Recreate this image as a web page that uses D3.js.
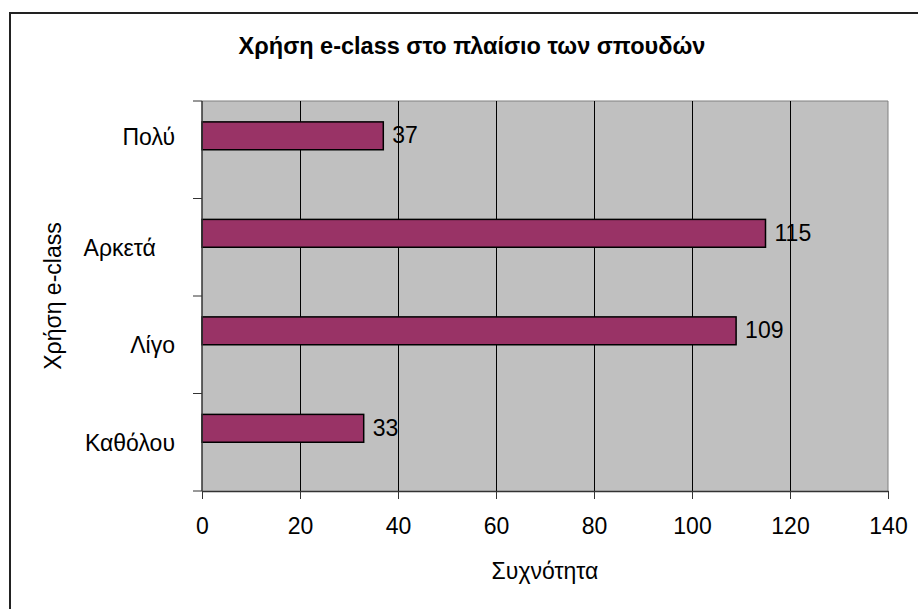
<!DOCTYPE html>
<html>
<head>
<meta charset="utf-8">
<script src="https://cdn.jsdelivr.net/npm/d3@7"></script>
<style>
  body { margin: 0; background: #fff; }
  text { font-family: "Liberation Sans", Arial, sans-serif; fill: #000; }
  .ylabel { white-space: pre; }
</style>
</head>
<body>
<div id="container"></div>
<script>
const categories = ["Καθόλου", "Λίγο", "Αρκετά", "Πολύ"];
// category labels as typed in the sheet (trailing spaces / empty line kept)
const categoryLabels = ["Καθόλου", "Λίγο", "Αρκετά   ", "Πολύ\n"];
const values = [33, 109, 115, 37];
const xTicks = [0, 20, 40, 60, 80, 100, 120, 140];
const title = "Χρήση e-class στο πλαίσιο των σπουδών";
const xTitle = "Συχνότητα";
const yTitle = "Χρήση e-class";

const W = 918, H = 609;
const plot = { left: 202, right: 888, top: 101, bottom: 491 };
const fs = 23;

const svg = d3.select("#container").append("svg")
  .attr("width", W).attr("height", H);

// outer chart frame (runs off the bottom/right of the picture)
svg.append("rect")
  .attr("x", 10).attr("y", 13)
  .attr("width", W + 20).attr("height", H + 20)
  .attr("fill", "#fff").attr("stroke", "#222").attr("stroke-width", 2);

const x = d3.scaleLinear().domain([0, 140]).range([plot.left, plot.right]);

// Excel-like category axis, bottom to top
const y = d3.scaleBand().domain(categories).range([plot.bottom, plot.top]);
// two slots per category (second one empty), gap width 150%
const slot = d3.scaleBand().domain(["a", "b"]).range([0, y.bandwidth()])
  .paddingInner(0).paddingOuter(0.75);

const data = categories.map((c, i) => ({ cat: c, label: categoryLabels[i], value: values[i] }));

// plot background
svg.append("rect")
  .attr("x", plot.left).attr("y", plot.top)
  .attr("width", plot.right - plot.left).attr("height", plot.bottom - plot.top)
  .attr("fill", "#c0c0c0");
svg.append("line")
  .attr("x1", plot.left).attr("x2", plot.right)
  .attr("y1", plot.top).attr("y2", plot.top)
  .attr("stroke", "#808080").attr("stroke-width", 1);
svg.append("line")
  .attr("x1", plot.right).attr("x2", plot.right)
  .attr("y1", plot.top).attr("y2", plot.bottom)
  .attr("stroke", "#808080").attr("stroke-width", 1);

// gridlines
svg.append("g").selectAll("line")
  .data(xTicks.filter((d) => d > 0 && d < 140))
  .enter().append("line")
  .attr("x1", (d) => Math.round(x(d)) + 0.5).attr("x2", (d) => Math.round(x(d)) + 0.5)
  .attr("y1", plot.top).attr("y2", plot.bottom)
  .attr("stroke", "#000").attr("stroke-width", 1);

// bars
svg.append("g").selectAll("rect")
  .data(data)
  .enter().append("rect")
  .attr("x", x(0))
  .attr("y", (d) => y(d.cat) + slot("a"))
  .attr("width", (d) => x(d.value) - x(0))
  .attr("height", slot.bandwidth())
  .attr("fill", "#993366")
  .attr("stroke", "#000").attr("stroke-width", 1.5);

// value labels
svg.append("g").selectAll("text")
  .data(data)
  .enter().append("text")
  .attr("x", (d) => x(d.value) + 9)
  .attr("y", (d) => y(d.cat) + slot("a") + slot.bandwidth() / 2 - 1)
  .attr("dy", "0.36em")
  .attr("font-size", fs + "px")
  .text((d) => d.value);

// x axis
const xAxis = svg.append("g")
  .attr("transform", `translate(0,${plot.bottom})`)
  .call(d3.axisBottom(x).tickValues(xTicks).tickSize(8).tickSizeOuter(0));
xAxis.select(".domain").attr("stroke", "#333").attr("stroke-width", 1.5);
xAxis.selectAll(".tick line").attr("stroke", "#333");
xAxis.selectAll(".tick text")
  .attr("font-size", fs + "px")
  .attr("font-family", "Liberation Sans, Arial, sans-serif")
  .attr("fill", "#000")
  .attr("dy", "0em")
  .attr("y", 43);

// y axis: ticks between categories
const yAxis = svg.append("g").attr("transform", `translate(${plot.left},0)`);
yAxis.append("line")
  .attr("x1", 0).attr("x2", 0).attr("y1", plot.top).attr("y2", plot.bottom)
  .attr("stroke", "#333").attr("stroke-width", 1.5);
const bounds = categories.map((c) => y(c) + y.bandwidth()).concat([plot.top]);
yAxis.selectAll(".ytick").data(bounds).enter().append("line")
  .attr("x1", -9).attr("x2", 0)
  .attr("y1", (d) => d).attr("y2", (d) => d)
  .attr("stroke", "#333");

const lineH = fs * 1.15;
const ylab = yAxis.selectAll(".ylabel").data(data).enter().append("text")
  .attr("class", "ylabel")
  .attr("text-anchor", "end")
  .attr("font-size", fs + "px");
ylab.each(function (d) {
  const lines = d.label.split("\n");
  const cy = y(d.cat) + y.bandwidth() / 2 - (lines.length - 1) * lineH / 2;
  lines.forEach((ln, i) => {
    d3.select(this).append("tspan")
      .attr("x", -27)
      .attr("y", cy + i * lineH)
      .attr("dy", "0.36em")
      .text(ln);
  });
});

// titles
svg.append("text")
  .attr("x", 472).attr("y", 54)
  .attr("text-anchor", "middle")
  .attr("font-size", "23.5px").attr("font-weight", "bold")
  .text(title);

svg.append("text")
  .attr("x", (plot.left + plot.right) / 2).attr("y", 579)
  .attr("text-anchor", "middle")
  .attr("font-size", fs + "px")
  .text(xTitle);

svg.append("text")
  .attr("transform", `translate(53,${(plot.top + plot.bottom) / 2}) rotate(-90)`)
  .attr("text-anchor", "middle")
  .attr("dy", "0.36em")
  .attr("font-size", fs + "px")
  .text(yTitle);
</script>
</body>
</html>
